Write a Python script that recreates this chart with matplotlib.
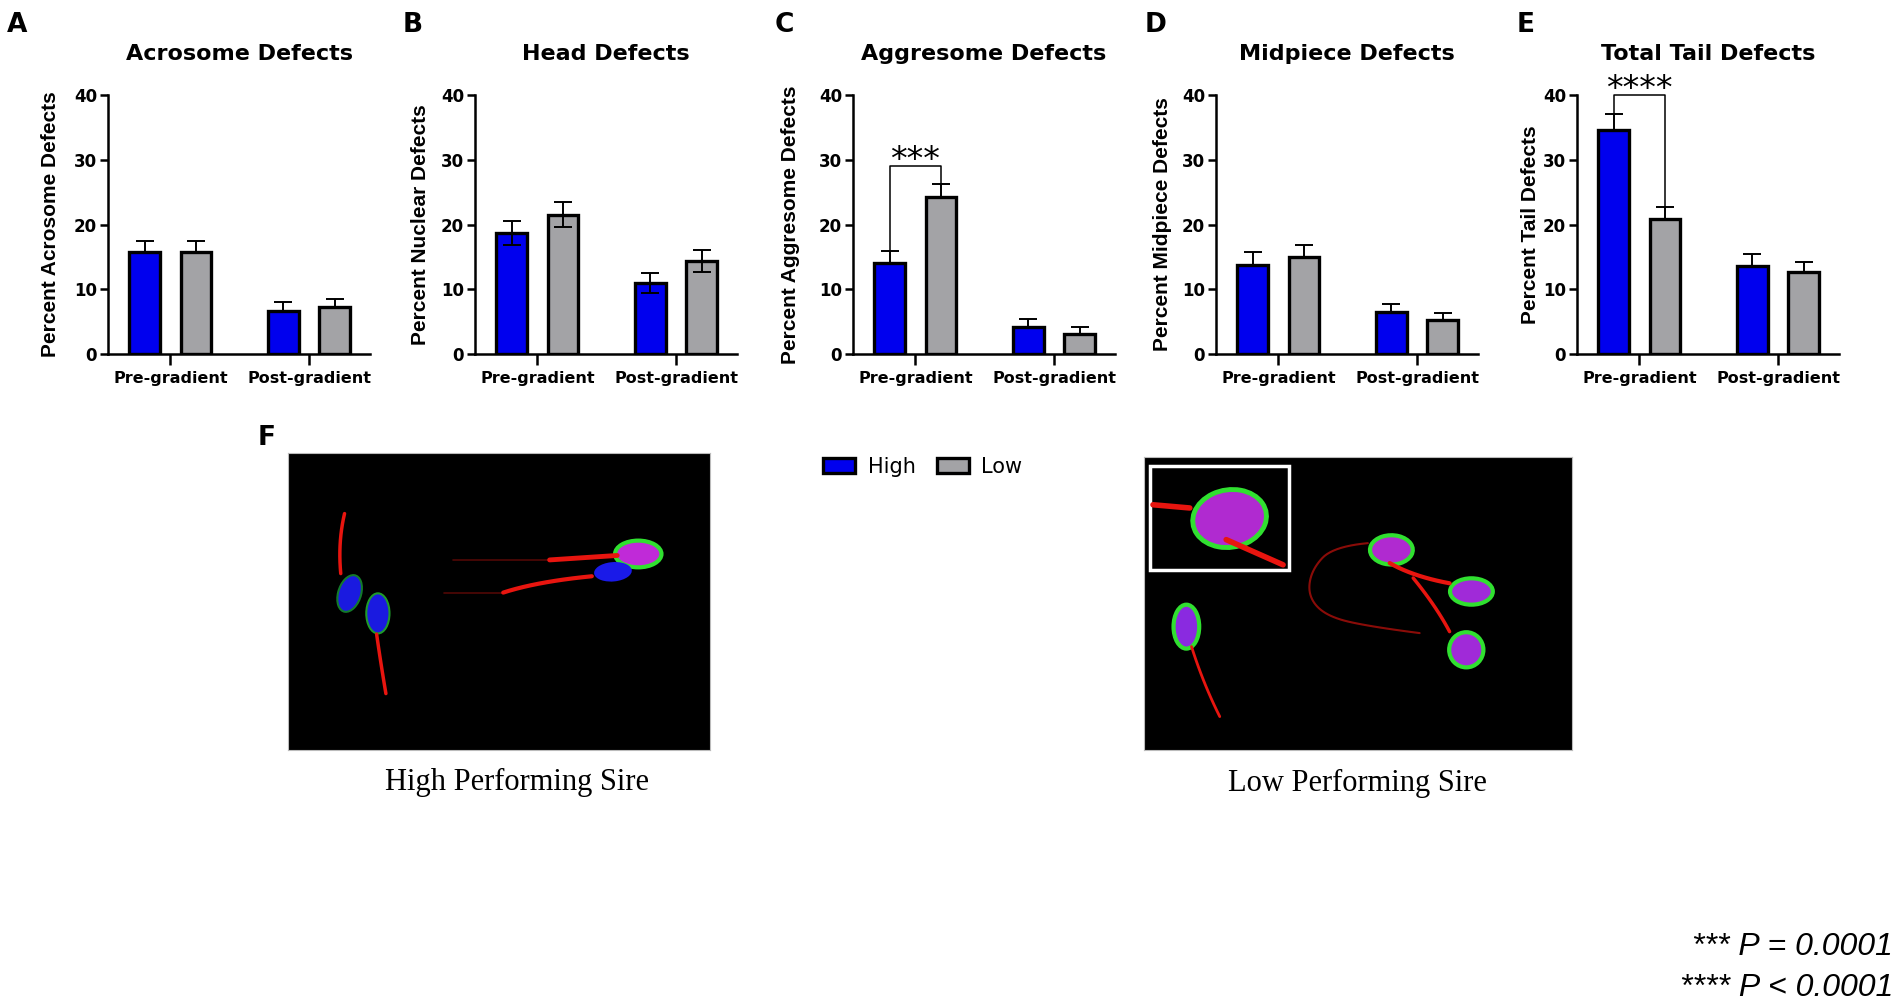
import numpy as np
import matplotlib
matplotlib.use("Agg")
import matplotlib.pyplot as plt
from matplotlib.patches import Ellipse, Rectangle

# ---- data ----
groups = ["Pre-gradient", "Post-gradient"]
titles = ["Acrosome Defects", "Head Defects", "Aggresome Defects",
          "Midpiece Defects", "Total Tail Defects"]
ylabels = ["Percent Acrosome Defects", "Percent Nuclear Defects",
           "Percent Aggresome Defects", "Percent Midpiece Defects",
           "Percent Tail Defects"]
letters = ["A", "B", "C", "D", "E"]

high_mean = [[15.8, 6.7], [18.7, 10.9], [14.0, 4.2], [13.8, 6.45], [34.6, 13.65]]
high_err = [[1.7, 1.4], [1.85, 1.55], [1.95, 1.15], [1.9, 1.25], [2.45, 1.8]]
low_mean = [[15.8, 7.3], [21.5, 14.3], [24.2, 3.05], [15.05, 5.25], [20.85, 12.65]]
low_err = [[1.7, 1.25], [1.9, 1.7], [2.05, 1.1], [1.75, 1.05], [1.85, 1.6]]
two_sided = [False, True, False, False, False]

sig_label = [None, None, "***", None, "****"]
sig_height = [None, None, 29.0, None, 40.0]

p_notes = ["*** P = 0.0001", "**** P < 0.0001"]

BLUE = "#0000ee"
GREY = "#a3a3a6"
BOLD = "DejaVu Sans"

W, H = 1901, 1007
fig = plt.figure(figsize=(W / 100, H / 100), dpi=100)


def px_box(left, top, width, height):
    return [left / W, 1 - (top + height) / H, width / W, height / H]


def ftext(x, y, s, **kw):
    return fig.text(x / W, 1 - y / H, s, **kw)


axes_left = [108, 475, 853, 1216, 1577]
letter_x = [7, 403, 775, 1145, 1517]
ylabel_off = [-58, -55, -63, -54, -47]
AX_W, AX_H, AX_TOP = 262, 259, 95
off, bw = 0.185, 0.22

legend_handles = None
for i in range(5):
    ax = fig.add_axes(px_box(axes_left[i], AX_TOP, AX_W, AX_H))
    x = np.arange(len(groups))
    hb = ax.bar(x - off, high_mean[i], width=bw, color=BLUE, edgecolor="black",
                linewidth=2.4, zorder=2)
    lb = ax.bar(x + off, low_mean[i], width=bw, color=GREY, edgecolor="black",
                linewidth=2.4, zorder=2)
    if legend_handles is None:
        legend_handles = [hb, lb]
    for xs, m, e in [(x - off, high_mean[i], high_err[i]),
                     (x + off, low_mean[i], low_err[i])]:
        e = np.array(e)
        if two_sided[i]:
            yerr, z = [e, e], 3
        else:
            yerr, z = [np.zeros_like(e), e], 1
        ax.errorbar(xs, m, yerr=yerr, fmt="none", ecolor="black",
                    elinewidth=1.4, capsize=6.5, capthick=1.4, zorder=z)

    ax.set_xlim(-0.45, 1.44)
    ax.set_ylim(0, 40)
    ax.set_yticks([0, 10, 20, 30, 40])
    ax.set_xticks(x, groups)
    for s in ["top", "right"]:
        ax.spines[s].set_visible(False)
    for s in ["left", "bottom"]:
        ax.spines[s].set_linewidth(1.8)
    ax.tick_params(axis="y", length=5.8, width=1.8, pad=2, labelsize=12)
    ax.tick_params(axis="x", length=8, width=1.8, pad=4, labelsize=11.5)
    for lab in ax.get_xticklabels() + ax.get_yticklabels():
        lab.set_fontweight("bold")
        lab.set_family(BOLD)

    ax.text(0.5, 1 + 41 / AX_H, titles[i], transform=ax.transAxes, ha="center",
            va="center", fontsize=16, fontweight="bold", family=BOLD)
    ax.text(ylabel_off[i] / AX_W, 0.5, ylabels[i], transform=ax.transAxes,
            rotation=90, ha="center", va="center", fontsize=15,
            fontweight="bold", family="Liberation Sans")
    ftext(letter_x[i], 12, letters[i], va="top", ha="left", fontsize=19,
          fontweight="bold", family=BOLD)

    if sig_label[i]:
        y = sig_height[i]
        x0, x1 = x[0] - off, x[0] + off
        y0 = high_mean[i][0] + high_err[i][0]
        y1 = low_mean[i][0] + low_err[i][0]
        ax.plot([x0, x0, x1, x1], [y0, y, y, y1], color="black", lw=1.1,
                clip_on=False, zorder=4)
        ax.annotate(sig_label[i], ((x0 + x1) / 2, y), xytext=(0, -3),
                    textcoords="offset points", ha="center", va="baseline",
                    fontsize=24, annotation_clip=False)

# ---- legend ----
fig.legend(legend_handles, ["High", "Low"], loc="center left",
           bbox_to_anchor=(823 / W, 1 - 467 / H), frameon=False, ncol=2,
           fontsize=15, handlelength=1.55, handleheight=0.75, handletextpad=0.6,
           columnspacing=1.0, borderpad=0, borderaxespad=0)

# ---- panel F: micrograph stand-ins ----
ftext(258, 425, "F", va="top", ha="left", fontsize=19, fontweight="bold",
      family=BOLD)


def micro_axes(box):
    a = fig.add_axes(px_box(*box))
    a.set_facecolor("black")
    a.set_xlim(0, 1)
    a.set_ylim(0, 1)
    a.set_xticks([])
    a.set_yticks([])
    for s in a.spines.values():
        s.set_color("#bbbbbb")
        s.set_linewidth(0.8)
    return a


def tail(a, pts, lw=2.5, alpha=1.0):
    # smooth the few guide points with a quadratic through midpoints
    p = np.array(pts, dtype=float)
    if len(p) > 2:
        t = np.linspace(0, 1, 12)[:, None]
        segs = [p[0]]
        mids = (p[:-1] + p[1:]) / 2
        for k in range(1, len(p) - 1):
            a0 = mids[k - 1] if k > 1 else p[0]
            a2 = mids[k] if k < len(p) - 2 else p[-1]
            curve = (1 - t) ** 2 * a0 + 2 * (1 - t) * t * p[k] + t ** 2 * a2
            segs.extend(curve)
        p = np.array(segs)
    a.plot(p[:, 0], p[:, 1], color="#e8150f", lw=lw, alpha=alpha,
           solid_capstyle="round", solid_joinstyle="round")


def head(a, xy, w, h, ang, face, rim=None, rim_w=2.5):
    a.add_patch(Ellipse(xy, w, h, angle=ang, facecolor=face,
                        edgecolor=rim if rim else face,
                        linewidth=rim_w if rim else 0))


img1 = micro_axes((288, 453, 422, 297))
tail(img1, [(0.134, 0.796), (0.118, 0.70), (0.125, 0.594)])
tail(img1, [(0.21, 0.39), (0.22, 0.29), (0.232, 0.19)])
tail(img1, [(0.62, 0.64), (0.39, 0.64)], lw=1.2, alpha=0.35)
tail(img1, [(0.78, 0.655), (0.62, 0.64)], lw=3.5)
tail(img1, [(0.51, 0.53), (0.37, 0.53)], lw=1.2, alpha=0.35)
tail(img1, [(0.72, 0.585), (0.59, 0.567), (0.51, 0.53)], lw=3)
head(img1, (0.146, 0.527), 0.055, 0.125, -10, "#1a1ae0", "#137a2a", 1.5)
head(img1, (0.213, 0.46), 0.055, 0.135, 0, "#1a1ae0", "#1f9a2a", 1.5)
head(img1, (0.83, 0.66), 0.11, 0.09, 0, "#c02ad8", "#30e030", 3)
head(img1, (0.77, 0.60), 0.09, 0.065, 10, "#1a1ae8")

img2 = micro_axes((1144, 457, 428, 293))
tail(img2, [(0.523, 0.706), (0.442, 0.695), (0.391, 0.615), (0.383, 0.524),
            (0.426, 0.456), (0.527, 0.421), (0.644, 0.399)], lw=1.5, alpha=0.6)
tail(img2, [(0.714, 0.569), (0.629, 0.592), (0.574, 0.638)], lw=3)
tail(img2, [(0.714, 0.404), (0.683, 0.49), (0.629, 0.587)], lw=2.5)
tail(img2, [(0.111, 0.353), (0.138, 0.228), (0.177, 0.114)], lw=2)
tail(img2, [(0.021, 0.837), (0.107, 0.826)], lw=4)
tail(img2, [(0.192, 0.718), (0.325, 0.632)], lw=4)
head(img2, (0.20, 0.79), 0.17, 0.20, -15, "#b02ad0", "#30e030", 3.5)
head(img2, (0.578, 0.683), 0.10, 0.10, -20, "#b02ad0", "#30e030", 3)
head(img2, (0.765, 0.541), 0.10, 0.09, 0, "#a02ad8", "#30e030", 3)
head(img2, (0.753, 0.342), 0.08, 0.12, 0, "#a02ad8", "#30e030", 3)
head(img2, (0.099, 0.421), 0.06, 0.15, 0, "#8a2ae0", "#30e030", 3)
img2.add_patch(Rectangle((0.013, 0.613), 0.326, 0.357, facecolor="none",
                         edgecolor="white", linewidth=2.5))

ftext(517, 782, "High Performing Sire", ha="center", va="center",
      fontsize=22, family="Liberation Serif")
ftext(1357, 783, "Low Performing Sire", ha="center", va="center",
      fontsize=22, family="Liberation Serif")

ftext(1893, 947, p_notes[0], ha="right", va="center", fontsize=23,
      style="italic", family="Liberation Sans")
ftext(1893, 988, p_notes[1], ha="right", va="center", fontsize=23,
      style="italic", family="Liberation Sans")

fig.savefig("out.png", dpi=100)
